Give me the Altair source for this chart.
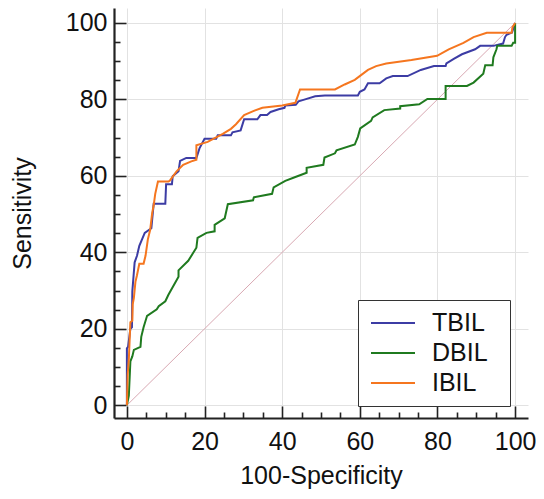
import altair as alt
import pandas as pd

series_names = ["TBIL", "DBIL", "IBIL"]
series_colors = ["#3c3ca4", "#1f7a1f", "#f5761f"]

tbil_x = [0, 0, 0.3, 0.9, 1.3, 1.4, 2.0, 2.6, 3.2, 3.9, 4.6, 6.3, 6.9, 9.9, 10.1, 11.6, 11.8, 13.3, 13.7,
          15.3, 17.9, 18.7, 20.0, 23.0, 23.4, 26.8, 27.2, 29.3, 30.2, 33.6, 34.4, 36.1, 37.0, 39.1, 40.6,
          40.8, 43.5, 44.2, 45.9, 48.5, 51.0, 59.5, 60.0, 61.2, 62.1, 65.1, 66.8, 68.5, 72.3, 75.7, 79.1,
          82.1, 82.3, 84.2, 86.3, 89.7, 91.0, 94.4, 96.9, 97.4, 97.8, 99.2, 100]
tbil_y = [0, 14.9, 15.3, 20.0, 20.4, 29.8, 37.4, 39.1, 41.7, 43.4, 45.1, 46.3, 52.7, 52.7, 57.8, 57.8, 59.9,
          61.2, 63.9, 64.7, 64.7, 67.2, 69.7, 69.7, 70.6, 70.6, 71.4, 71.9, 74.8, 74.8, 75.9, 75.9, 76.7,
          77.4, 77.8, 78.4, 78.6, 79.5, 80.0, 80.8, 81.0, 81.0, 82.0, 82.6, 84.2, 84.2, 85.5, 86.1, 86.1,
          87.7, 88.7, 88.7, 89.4, 90.6, 91.8, 93.1, 94.0, 94.0, 94.6, 96.3, 96.9, 97.5, 100]

dbil_x = [0, 0.5, 0.9, 1.4, 1.8, 3.5, 3.7, 4.3, 5.2, 7.7, 8.2, 9.9, 10.7, 13.3, 13.3, 15.8, 17.9, 18.2, 20.5,
          22.6, 22.6, 25.2, 26.0, 32.5, 32.7, 37.4, 37.8, 40.8, 43.4, 46.3, 46.3, 50.6, 50.9, 53.6, 54.0,
          58.7, 59.5, 60.1, 62.9, 63.3, 66.3, 70.4, 70.4, 75.3, 77.4, 82.1, 82.1, 87.6, 89.3, 91.8, 92.3,
          94.2, 94.4, 95.2, 95.4, 99.1, 99.5, 100, 100]
dbil_y = [0, 2.5, 11.5, 12.8, 14.5, 15.3, 17.9, 20.4, 23.4, 25.1, 25.9, 27.2, 28.9, 33.6, 35.3, 37.8, 41.2,
          43.8, 45.1, 45.5, 47.2, 48.9, 52.6, 53.6, 54.4, 55.3, 57.0, 58.7, 59.7, 60.8, 62.1, 62.9, 64.8,
          65.9, 66.7, 68.2, 70.2, 72.4, 74.4, 75.3, 77.2, 77.6, 78.2, 78.7, 80.1, 80.1, 83.5, 83.5, 84.4,
          86.7, 88.9, 88.9, 91.0, 93.1, 94.0, 94.0, 94.8, 94.8, 100]

ibil_x = [0, 0.2, 0.5, 0.9, 1.4, 1.5, 1.8, 2.2, 2.6, 3.2, 4.3, 4.8, 5.4, 6.0, 6.5, 6.9, 7.3, 8.0, 10.7, 11.1,
          12.8, 14.5, 16.6, 17.9, 17.9, 20.8, 24.7, 26.8, 28.1, 30.2, 32.7, 34.9, 40.0, 43.4, 44.6, 53.6,
          56.1, 58.7, 60.4, 62.1, 64.2, 66.8, 73.3, 79.9, 82.9, 86.7, 89.3, 92.7, 99.1, 99.3, 100]
ibil_y = [0, 8.0, 12.0, 21.7, 22.1, 26.4, 28.1, 32.3, 34.0, 37.0, 37.0, 39.1, 43.4, 45.9, 50.2, 52.3, 55.3,
          58.5, 58.5, 58.8, 61.2, 62.9, 63.8, 64.2, 68.0, 68.9, 71.0, 72.3, 73.5, 75.9, 77.0, 77.8, 78.4,
          79.1, 82.6, 82.6, 83.9, 85.1, 86.4, 87.7, 88.7, 89.4, 90.3, 91.4, 93.1, 94.8, 96.3, 97.4, 97.4,
          98.8, 100]

diag_x = [0, 100]
diag_y = [0, 100]

ticks_major = [0, 20, 40, 60, 80, 100]
ticks_minor = [v for v in range(0, 101, 5) if v % 20 != 0]

rows = []
for name, xs, ys in [("TBIL", tbil_x, tbil_y), ("DBIL", dbil_x, dbil_y), ("IBIL", ibil_x, ibil_y)]:
    for i, (a, b) in enumerate(zip(xs, ys)):
        rows.append({"series": name, "idx": i, "x": a, "y": b})
roc = pd.DataFrame(rows)
diag = pd.DataFrame({"x": diag_x, "y": diag_y})

FONT = "Liberation Sans"
xscale = alt.Scale(domain=[-3.32, 103.32], nice=False, zero=False)
yscale = alt.Scale(domain=[-3.32, 103.9], nice=False, zero=False)


def main_axis(orient, title, label_pad, title_pad):
    return alt.Axis(orient=orient, values=ticks_major, offset=0, domain=True, domainColor="#222",
                    domainWidth=2.2, ticks=False, tickSize=0, labelFont=FONT, labelFontSize=25,
                    labelColor="#111", labelPadding=label_pad, title=title, titleFont=FONT,
                    titleFontSize=25, titleFontWeight="normal", titleColor="#111",
                    titlePadding=title_pad, grid=True, gridColor="#e2e2e2", gridWidth=1,
                    labelOverlap=False)


def tick_axis(orient, values, size):
    return alt.Axis(orient=orient, values=values, offset=-size, domain=False, labels=False,
                    ticks=True, tickSize=size, tickWidth=1.6, tickColor="#222", grid=False, title=None)


diag_layer = alt.Chart(diag).mark_line(color="#d8a8b2", strokeWidth=1).encode(
    x=alt.X("x:Q", scale=xscale, axis=main_axis("bottom", "100-Specificity", 11, 9)),
    y=alt.Y("y:Q", scale=yscale, axis=main_axis("left", "Sensitivity", 7, 30)),
)

roc_layer = alt.Chart(roc).mark_line(strokeWidth=2).encode(
    x=alt.X("x:Q", scale=xscale, axis=tick_axis("bottom", ticks_major, 12)),
    y=alt.Y("y:Q", scale=yscale, axis=tick_axis("left", ticks_major, 12)),
    color=alt.Color("series:N", scale=alt.Scale(domain=series_names, range=series_colors),
                    legend=alt.Legend(orient="none", legendX=244, legendY=292, title=None,
                                      symbolType="stroke", symbolSize=1936, symbolStrokeWidth=1.8,
                                      labelFont=FONT, labelFontSize=25, labelColor="#111",
                                      labelExpr="datum.label + '\u00a0\u00a0\u200b'",
                                      strokeColor="#333", fillColor="white", padding=8,
                                      clipHeight=30, rowPadding=0, symbolOffset=4,
                                      labelOffset=16, direction="vertical")),
    order="idx:Q",
)

minor_layer = alt.Chart(diag).mark_line(opacity=0).encode(
    x=alt.X("x:Q", scale=xscale, axis=tick_axis("bottom", ticks_minor, 6)),
    y=alt.Y("y:Q", scale=yscale, axis=tick_axis("left", ticks_minor, 6)),
)

chart = alt.layer(diag_layer, roc_layer, minor_layer).resolve_axis(
    x="independent", y="independent"
).properties(
    width=414, height=410,
    autosize=alt.AutoSizeParams(type="none"),
    padding={"left": 106, "top": 0, "right": 8, "bottom": 73},
).configure_view(stroke=None)

chart.save("out.html", embed_options={"renderer": "svg", "actions": False})
